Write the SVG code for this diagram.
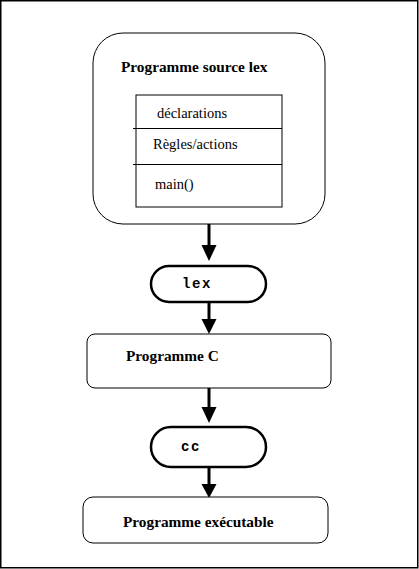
<svg xmlns="http://www.w3.org/2000/svg" width="419" height="569" viewBox="0 0 419 569">
<style>
.t{font-family:"Liberation Serif","Times New Roman",serif;font-size:14.5px;fill:#000}
.b{font-weight:bold;font-size:15.3px}
.m{font-family:"Liberation Mono","Courier New",monospace;font-weight:bold;font-size:14px;fill:#000;letter-spacing:1.6px}
.box{fill:#fff;stroke:#000;stroke-width:1}
.pill{fill:#fff;stroke:#000;stroke-width:2.5}
.ln{stroke:#000;stroke-width:3;fill:none}
.hd{fill:#000}
</style>
<rect x="0.75" y="0.75" width="417" height="567" fill="#fff" stroke="#000" stroke-width="1.5"/>
<g id="connectors">
<line x1="209" y1="224" x2="209" y2="246" class="ln"/>
<path d="M201.5,245 L216.5,245 L209,261 Z" class="hd"/>
<line x1="209" y1="302" x2="209" y2="320" class="ln"/>
<path d="M201.5,319 L216.5,319 L209,334 Z" class="hd"/>
<line x1="209" y1="388" x2="209" y2="408" class="ln"/>
<path d="M201.5,407 L216.5,407 L209,423 Z" class="hd"/>
<line x1="209" y1="467" x2="209" y2="485" class="ln"/>
<path d="M201.5,484 L216.5,484 L209,498 Z" class="hd"/>
</g>
<g id="source">
<rect x="93" y="33" width="232" height="191" rx="30" ry="30" class="box"/>
<text x="121" y="72" class="t b">Programme source lex</text>
<rect x="136" y="95" width="146" height="112" class="box"/>
<line x1="133" y1="128.5" x2="282" y2="128.5" stroke="#000"/>
<line x1="133" y1="164.5" x2="282" y2="164.5" stroke="#000"/>
<text x="157" y="118" class="t">déclarations</text>
<text x="153" y="149" class="t">Règles/actions</text>
<text x="155" y="189" class="t">main()</text>
</g>
<g id="lex">
<rect x="151" y="266" width="115" height="36" rx="18" ry="18" class="pill"/>
<text x="182" y="288" class="m">lex</text>
</g>
<g id="progc">
<rect x="87" y="334" width="244" height="54" rx="8" ry="8" class="box"/>
<text x="126" y="361" class="t b">Programme C</text>
</g>
<g id="cc">
<rect x="151" y="427" width="115" height="40" rx="20" ry="20" class="pill"/>
<text x="181" y="451" class="m">cc</text>
</g>
<g id="exe">
<rect x="83" y="497" width="245" height="46" rx="10" ry="10" class="box"/>
<text x="123" y="527" class="t b">Programme exécutable</text>
</g>
</svg>
